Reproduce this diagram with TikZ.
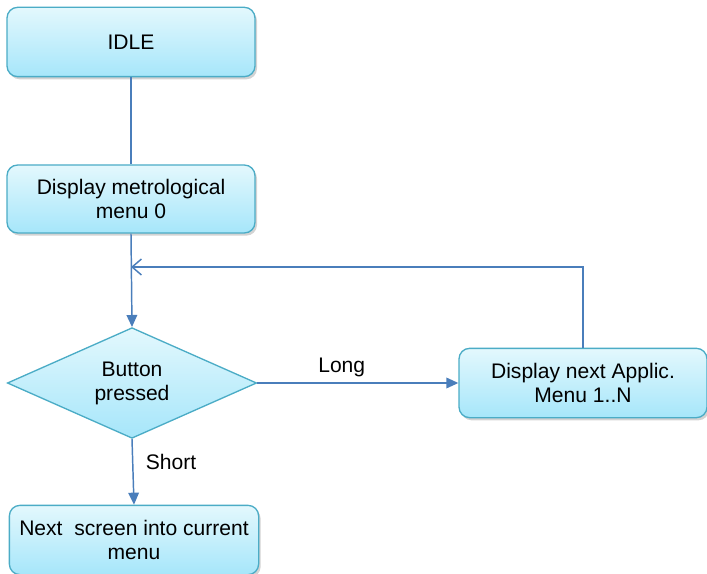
\documentclass[tikz,border=0pt]{standalone}
\usepackage{fontspec}
\setmainfont{Liberation Sans}
\usepackage{tikz}
\usetikzlibrary{arrows.meta,positioning,shapes.geometric,shadows}
\definecolor{fbox}{HTML}{4BACC6}
\definecolor{ftop}{HTML}{E3F8FD}
\definecolor{fbot}{HTML}{A6E6FA}
\definecolor{fline}{HTML}{4A7EBB}

\begin{document}
\begin{tikzpicture}[x=0.75pt,y=-0.75pt,
    font=\fontsize{15.8}{18}\selectfont,
    stepbox/.style={rectangle,rounded corners=8pt,draw=fbox,line width=1pt,
      top color=ftop,bottom color=fbot,align=center,
      minimum width=186pt,minimum height=52pt,inner sep=2pt,
      drop shadow={shadow xshift=1.5pt,shadow yshift=-2pt,opacity=0.35,fill=gray}},
    decide/.style={diamond,aspect=2.2,draw=fbox,line width=1pt,
      top color=ftop,bottom color=fbot,align=center,
      minimum width=187pt,minimum height=83pt,inner sep=0pt},
    flow/.style={draw=fline,line width=1.1pt},
    farrow/.style={flow,-{Triangle[width=8pt,length=9pt]}},
    oarrow/.style={flow,-{Straight Barb[width=12pt,length=7pt]}}]

      \useasboundingbox (0,0) rectangle (707,574);

      % boxes
      \node[stepbox] (idle) at (131,42) {IDLE};
      \node[stepbox,minimum height=51pt] (menu0) at (131,199) {Display metrological\\menu 0};
      \node[decide] (btn) at (132,383) {Button\\pressed};
      \node[stepbox] (nextapp) at (583,383) {Display next Applic.\\Menu 1..N};
      \node[stepbox,minimum width=187pt] (nextscr) at (134,540) {Next\ \ screen into current\\menu};

      % connectors
      \coordinate (join) at (131,267);
      \draw[flow] (idle.south) -- (menu0.north);
      \draw[farrow] (menu0.south) -- (btn.north);
      \draw[oarrow] (nextapp.north) |- (join);
      \draw[farrow] (btn.east) -- node[above=1pt,pos=0.42] (lng) {Long} (nextapp.west);
      \draw[farrow] (btn.south) -- node[right=6pt,pos=0.35] (sht) {Short} (nextscr.north);

    \end{tikzpicture}
\end{document}
